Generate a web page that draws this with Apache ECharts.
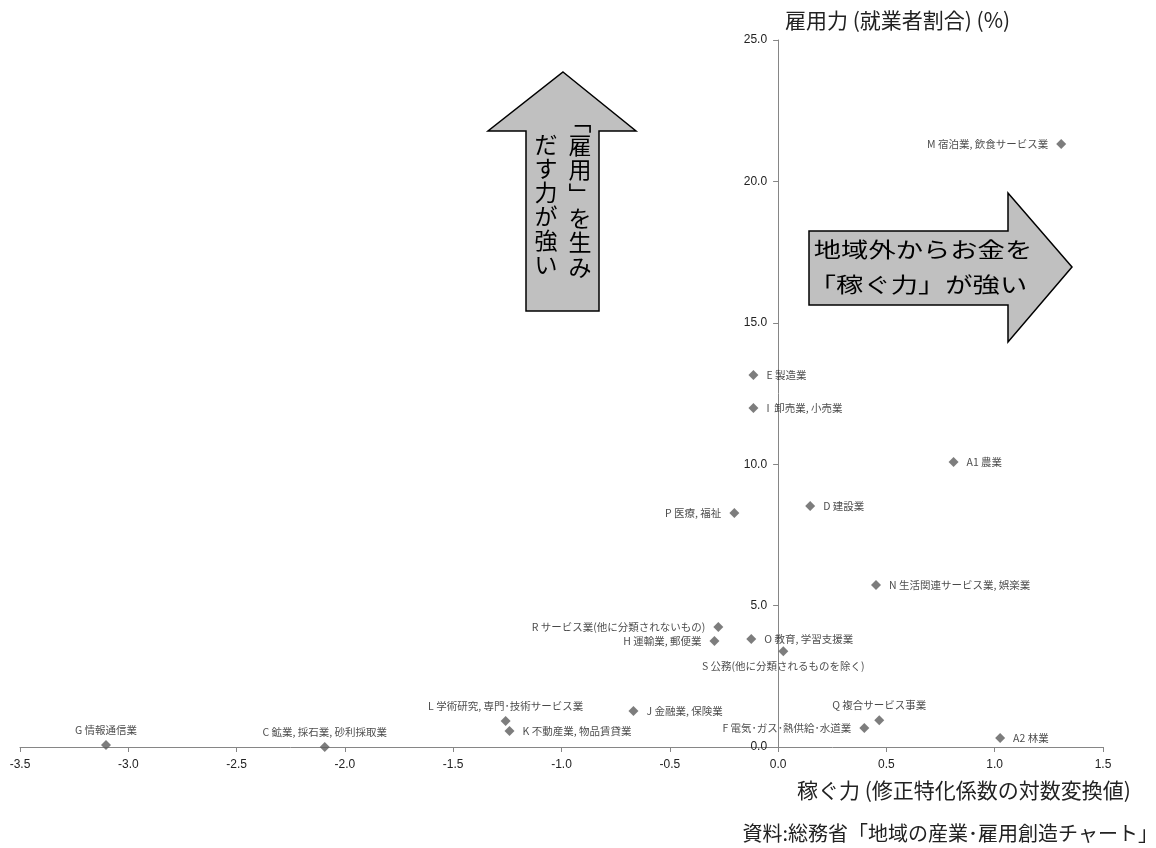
<!DOCTYPE html>
<html>
<head>
<meta charset="utf-8">
<title>稼ぐ力と雇用力</title>
<script src="https://cdn.jsdelivr.net/npm/echarts@6/dist/echarts.min.js"></script>
<style>
  html, body { margin: 0; padding: 0; background: #fff; }
  #chart { width: 1156px; height: 848px; }
</style>
</head>
<body>
<div id="chart"></div>
<script>
// 産業別の稼ぐ力（修正特化係数の対数変換値）と雇用力（就業者割合 %）
const industries = [
  'M 宿泊業, 飲食サービス業',
  'E 製造業',
  'I  卸売業, 小売業',
  'A1 農業',
  'D 建設業',
  'P 医療, 福祉',
  'N 生活関連サービス業, 娯楽業',
  'R サービス業(他に分類されないもの)',
  'H 運輸業, 郵便業',
  'O 教育, 学習支援業',
  'S 公務(他に分類されるものを除く)',
  'L 学術研究, 専門･技術サービス業',
  'K 不動産業, 物品賃貸業',
  'J 金融業, 保険業',
  'Q 複合サービス事業',
  'F 電気･ガス･熱供給･水道業',
  'A2 林業',
  'G 情報通信業',
  'C 鉱業, 採石業, 砂利採取業'
];
const earningPower = [
  1.307, -0.114, -0.114, 0.810, 0.148, -0.202, 0.452, -0.276, -0.294, -0.124,
  0.024, -1.258, -1.240, -0.668, 0.467, 0.398, 1.025, -3.103, -2.093
];
const employmentShare = [
  21.32, 13.15, 11.99, 10.08, 8.52, 8.27, 5.73, 4.24, 3.75, 3.82,
  3.39, 0.92, 0.57, 1.27, 0.95, 0.67, 0.32, 0.07, 0.00
];
const xTicks = { min: -3.5, max: 1.5, step: 0.5 };
const yTicks = { min: 0, max: 25, step: 5 };

// ラベルの配置（各点に対する向き）
const labelSide = ['left', 'right', 'right', 'right', 'right', 'left', 'right', 'left', 'left', 'right',
                   'bottom', 'top', 'right', 'right', 'top', 'left', 'right', 'top', 'top'];

const JP = '"Noto Sans CJK JP", "Noto Sans", sans-serif';
const axisColor = '#868686';

const GRID = { left: 20, right: 53, top: 40, bottom: 101 };
const WIDTH = 1156;

const points = industries.map((name, i) => {
  const side = labelSide[i];
  return {
    name: name,
    value: [earningPower[i], employmentShare[i]],
    label: { position: side, distance: (side === 'left' || side === 'right') ? 8 : 5 }
  };
});

// 縦軸を x = 0 の位置に置くためのずらし量
const plotWidth = WIDTH - GRID.left - GRID.right;
const yAxisShift = -plotWidth * (0 - xTicks.min) / (xTicks.max - xTicks.min);

const chart = echarts.init(document.getElementById('chart'), null, { renderer: 'canvas' });

chart.setOption({
  animation: false,
  backgroundColor: '#ffffff',
  grid: Object.assign({ containLabel: false, outerBoundsMode: 'none' }, GRID),
  xAxis: {
    type: 'value',
    min: xTicks.min, max: xTicks.max, interval: xTicks.step,
    axisLine: { onZero: true, lineStyle: { color: axisColor, width: 1 } },
    axisTick: { show: true, inside: false, length: 5, lineStyle: { color: axisColor } },
    axisLabel: {
      margin: 12, fontSize: 12, color: '#222', fontFamily: '"Liberation Sans", sans-serif',
      formatter: v => v.toFixed(1), showMinLabel: true, showMaxLabel: true
    },
    splitLine: { show: false }
  },
  yAxis: {
    type: 'value',
    position: 'left',
    offset: yAxisShift,
    min: yTicks.min, max: yTicks.max, interval: yTicks.step,
    axisLine: { onZero: false, lineStyle: { color: axisColor, width: 1 } },
    axisTick: { show: true, inside: false, length: 5, lineStyle: { color: axisColor } },
    axisLabel: {
      margin: 11, fontSize: 12, color: '#222', fontFamily: '"Liberation Sans", sans-serif',
      formatter: v => v.toFixed(1), showMinLabel: true, showMaxLabel: true
    },
    splitLine: { show: false }
  },
  series: [{
    type: 'scatter',
    symbol: 'diamond',
    symbolSize: 10,
    itemStyle: { color: '#5c5c5c' },
    label: {
      show: true,
      formatter: p => p.name,
      fontSize: 10.5,
      color: '#1a1a1a',
      fontFamily: JP
    },
    data: points
  }],
  graphic: [
    // 縦方向の矢印
    {
      type: 'polygon', z: 1,
      shape: { points: [[563, 72], [636, 131], [599, 131], [599, 311], [526, 311], [526, 131], [488, 131]] },
      style: { fill: '#c0c0c0', stroke: '#000', lineWidth: 1.5 }
    },
    {
      type: 'text', z: 2, x: 580, y: 109,
      style: {
        text: '﹁\n雇\n用\n﹂\nを\n生\nみ', fontSize: 23, lineHeight: 24.3,
        fontFamily: JP, fill: '#000', align: 'center', verticalAlign: 'top'
      }
    },
    {
      type: 'text', z: 2, x: 546, y: 132,
      style: {
        text: 'だ\nす\n力\nが\n強\nい', fontSize: 23, lineHeight: 24,
        fontFamily: JP, fill: '#000', align: 'center', verticalAlign: 'top'
      }
    },
    // 横方向の矢印
    {
      type: 'polygon', z: 1,
      shape: { points: [[809, 231], [1008, 231], [1008, 193], [1072, 267], [1008, 342], [1008, 305], [809, 305]] },
      style: { fill: '#c0c0c0', stroke: '#000', lineWidth: 1.5 }
    },
    {
      type: 'text', z: 2, x: 923, y: 249, scaleX: 1.3,
      style: {
        text: '地域外からお金を', fontSize: 21,
        fontFamily: JP, fill: '#000', align: 'center', verticalAlign: 'middle'
      }
    },
    {
      type: 'text', z: 2, x: 918, y: 284, scaleX: 1.3,
      style: {
        text: '「稼ぐ力」が強い', fontSize: 21,
        fontFamily: JP, fill: '#000', align: 'center', verticalAlign: 'middle'
      }
    },
    // 軸タイトルと出典
    {
      type: 'text', x: 785, y: 20,
      style: {
        text: '雇用力 (就業者割合) (%)', fontSize: 21,
        fontFamily: JP, fill: '#222', align: 'left', verticalAlign: 'middle'
      }
    },
    {
      type: 'text', x: 797, y: 790,
      style: {
        text: '稼ぐ力 (修正特化係数の対数変換値)', fontSize: 21,
        fontFamily: JP, fill: '#222', align: 'left', verticalAlign: 'middle'
      }
    },
    {
      type: 'text', x: 1158, y: 833,
      style: {
        text: '資料:総務省「地域の産業･雇用創造チャート」', fontSize: 20,
        fontFamily: JP, fill: '#222', align: 'right', verticalAlign: 'middle'
      }
    }
  ]
});
</script>
</body>
</html>
